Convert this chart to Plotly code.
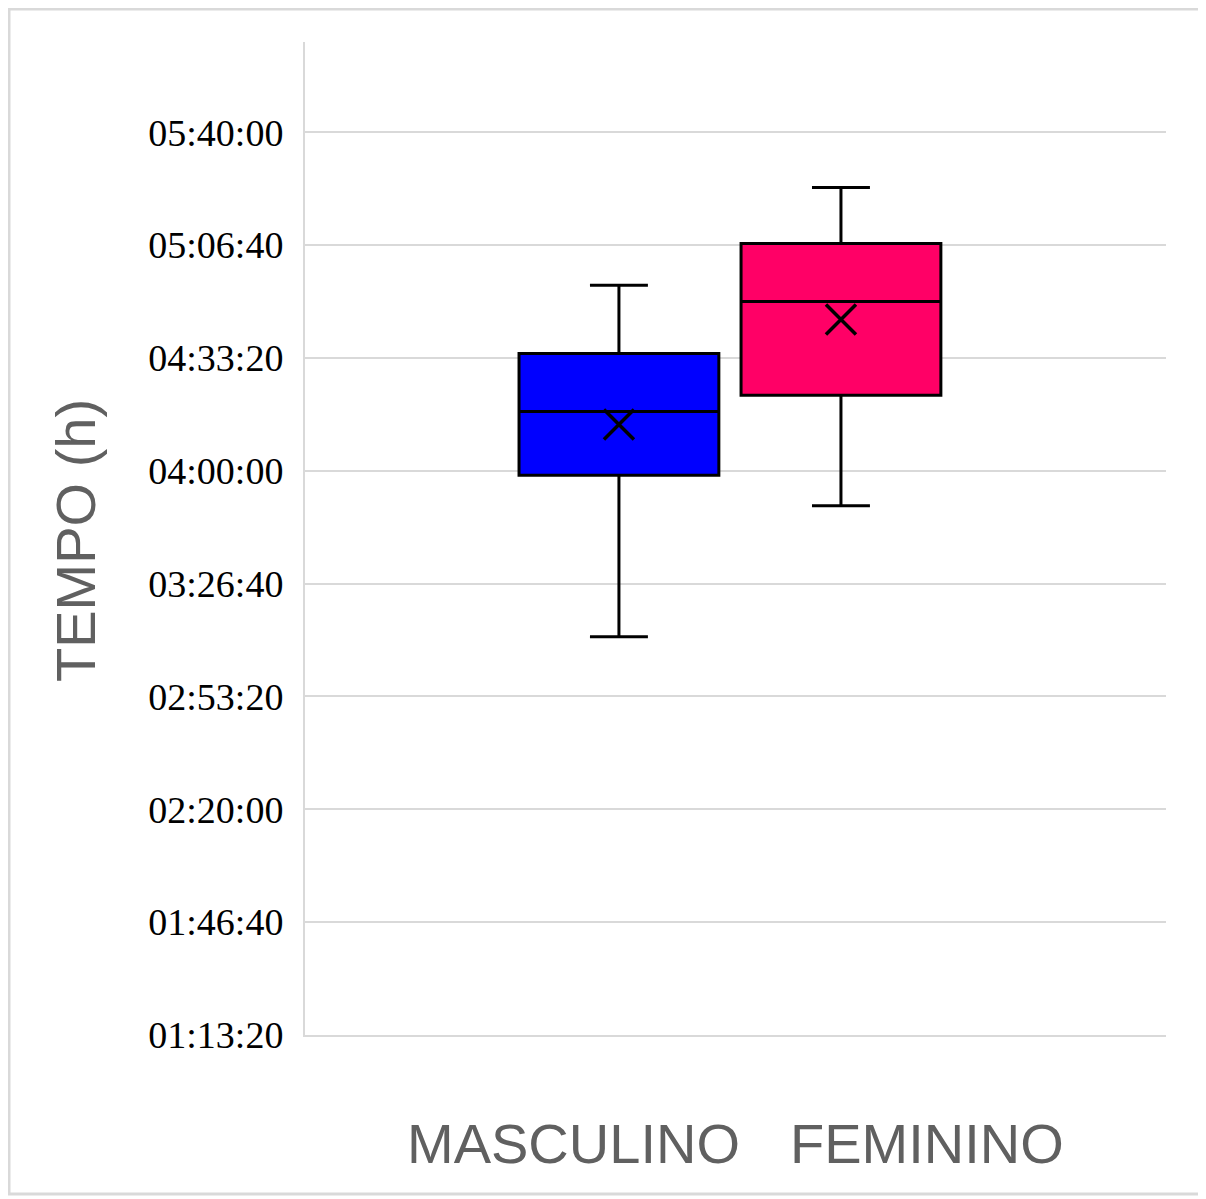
import plotly.graph_objects as go

# ---- data (seconds) ----
groups = ["MASCULINO", "FEMININO"]
positions = [0, 1]
colors = ["#0000FF", "#FF0066"]
lowerfence = [11460, 13780]
q1 = [14320, 15740]
median = [15450, 17400]
mean = [15220, 17080]
q3 = [16480, 18430]
upperfence = [17690, 19420]

tick_vals = [4400, 6400, 8400, 10400, 12400, 14400, 16400, 18400, 20400]
tick_text = ["01:13:20", "01:46:40", "02:20:00", "02:53:20", "03:26:40",
             "04:00:00", "04:33:20", "05:06:40", "05:40:00"]

# page offset of 8px (body margin) taken into account
PL, PT, PW, PH = 297, 34, 861, 993  # plot area in figure coordinates


def px(x):
    return (x - PL) / PW


def py(y):
    return (PT + PH - y) / PH


fig = go.Figure()
for i, g in enumerate(groups):
    fig.add_trace(go.Box(
        name=g, x=[positions[i]],
        q1=[q1[i]], median=[median[i]], q3=[q3[i]],
        lowerfence=[lowerfence[i]], upperfence=[upperfence[i]],
        fillcolor=colors[i], line=dict(color="black", width=3),
        width=0.9, whiskerwidth=0.29, boxpoints=False, showlegend=False,
    ))
fig.add_trace(go.Scatter(
    x=positions, y=mean, mode="markers", showlegend=False,
    marker=dict(symbol="x-thin-open", size=30, color="black",
                line=dict(color="black", width=3.5)),
))

fig.update_layout(
    width=1198, height=1191,
    margin=dict(l=PL, r=1198 - PL - PW, t=PT, b=1191 - PT - PH),
    paper_bgcolor="white", plot_bgcolor="white",
    xaxis=dict(range=[-1.414, 2.464], showticklabels=False, showgrid=False,
               zeroline=False, showline=True, linecolor="#d9d9d9", linewidth=2,
               ticks=""),
    yaxis=dict(range=[4400, 22000], tickvals=tick_vals, ticktext=tick_text,
               showgrid=True, gridcolor="#d9d9d9", gridwidth=2,
               showline=True, linecolor="#d9d9d9", linewidth=2, zeroline=False,
               ticks="", ticklabelstandoff=12,
               tickfont=dict(family="Liberation Serif", size=38, color="black")),
    annotations=[
        dict(text="TEMPO (h)", textangle=-90, xref="paper", yref="paper",
             x=px(67), y=py(532), xanchor="center", yanchor="middle",
             showarrow=False, font=dict(family="Liberation Sans", size=56, color="#606060")),
        dict(text="MASCULINO", xref="paper", yref="paper",
             x=px(565), y=py(1135), xanchor="center", yanchor="middle",
             showarrow=False, font=dict(family="Liberation Sans", size=56, color="#606060")),
        dict(text="FEMININO", xref="paper", yref="paper",
             x=px(919), y=py(1135), xanchor="center", yanchor="middle",
             showarrow=False, font=dict(family="Liberation Sans", size=56, color="#606060")),
    ],
    shapes=[
        dict(type="rect", xref="paper", yref="paper",
             x0=px(1), x1=px(1195), y0=py(1186), y1=py(1),
             line=dict(color="#d9d9d9", width=3), fillcolor="rgba(0,0,0,0)", layer="below"),
    ],
)

fig.write_html("out.html")
